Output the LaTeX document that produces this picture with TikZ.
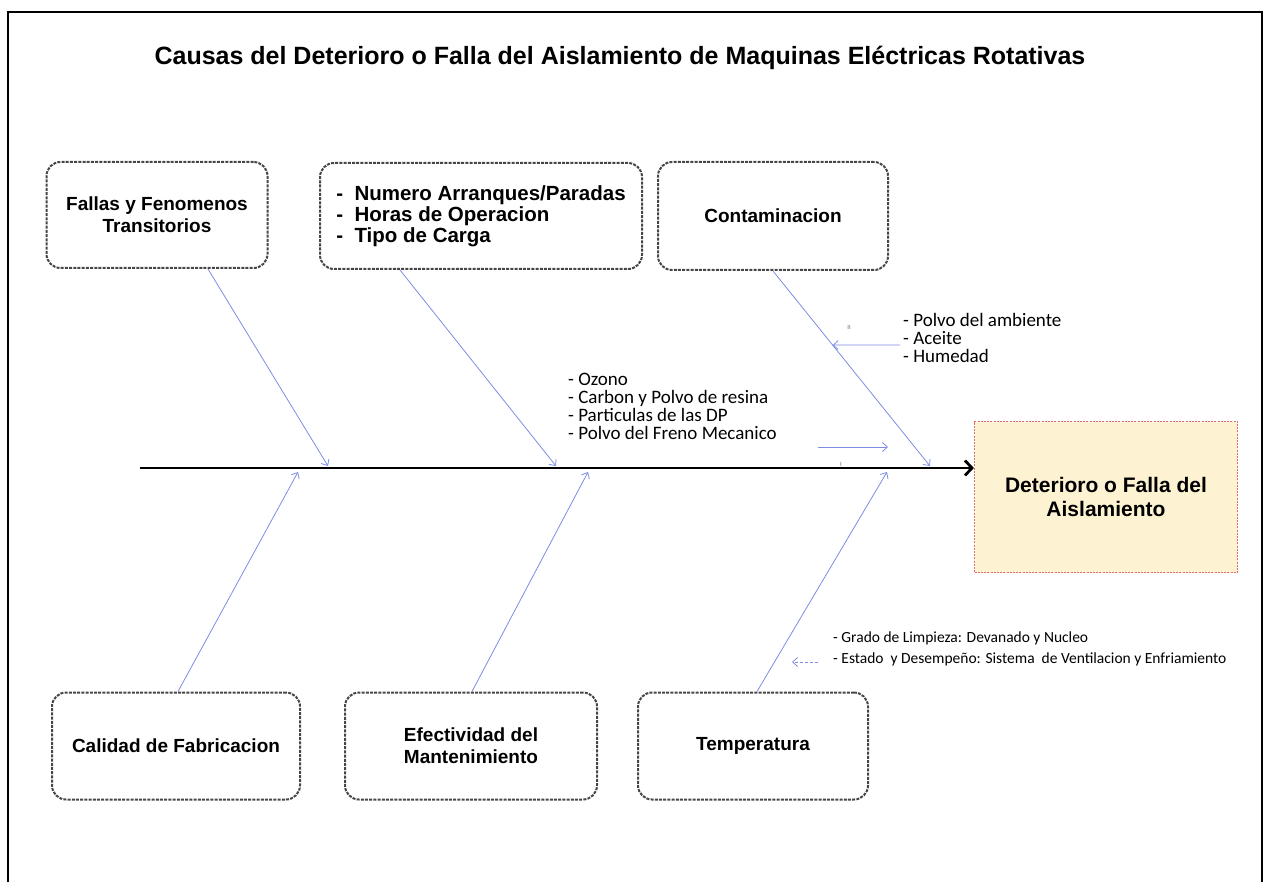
\documentclass[tikz,border=0pt]{standalone}
\usepackage{fontspec}
\setmainfont{Liberation Sans}
\newfontfamily\notefont{Carlito}
\usetikzlibrary{arrows.meta,calc}
\definecolor{causeblue}{RGB}{125,140,228}
\definecolor{boxline}{RGB}{70,70,70}
\definecolor{effectfill}{RGB}{253,243,210}
\definecolor{effectline}{RGB}{225,110,110}
\tikzset{
  causebox/.style={draw=boxline,line width=2pt,dash pattern=on 3pt off 1.2pt,
    rounded corners=14pt,align=center,font=\bfseries\fontsize{19}{22}\selectfont},
  effectbox/.style={draw=effectline,fill=effectfill,line width=1.2pt,dash pattern=on 2pt off 1.2pt,
    align=center,font=\bfseries\fontsize{21}{24}\selectfont},
  bone/.style={draw=causeblue,line width=0.8pt,-{Straight Barb[length=5pt,width=9pt]}},
  notes/.style={align=left,inner sep=0pt,font=\notefont\fontsize{19}{18}\selectfont},
  tick/.style={text=black!60,font=\fontsize{6}{6}\selectfont}
}
\begin{document}
\begin{tikzpicture}[x=1pt,y=-1pt]
   \useasboundingbox (0,0) rectangle (1266,882);
   \draw[line width=2.6pt] (8,890) -- (8,12) -- (1262,12) -- (1262,890);
   \node (title) at (620,58) {\bfseries\fontsize{25}{28}\selectfont Causas del Deterioro o Falla del Aislamiento de Maquinas Eléctricas Rotativas};
   % causas
   \node[causebox,minimum width=221pt,minimum height=106pt] (fallas) at (157,215) {Fallas y Fenomenos\\Transitorios};
   \node[causebox,minimum width=322pt,minimum height=106pt,align=left,font=\bfseries\fontsize{20.5}{21}\selectfont] (uso) at (481,216)
      {-\ \ Numero Arranques/Paradas\\-\ \ Horas de Operacion\\-\ \ Tipo de Carga};
   \node[causebox,minimum width=230pt,minimum height=108pt] (contam) at (773,216) {Contaminacion};
   \node[causebox,minimum width=248pt,minimum height=107pt] (calidad) at (176,746) {Calidad de Fabricacion};
   \node[causebox,minimum width=252pt,minimum height=107pt] (mant) at (471,746) {Efectividad del\\Mantenimiento};
   \node[causebox,minimum width=230pt,minimum height=107pt] (temp) at (753,746) {Temperatura};
   % efecto
   \node[effectbox,minimum width=263pt,minimum height=151pt] (efecto) at (1106,497) {Deterioro o Falla del\\Aislamiento};
   \coordinate (cola) at (140,468);
   \draw[line width=2.8pt,-{Straight Barb[length=7pt,width=15pt]}] (cola) -- (efecto.west |- cola);
   % espinas
   \coordinate (c1) at ($(fallas.south)+(51,0)$);
   \coordinate (c2) at ($(uso.south)+(-81,0)$);
   \coordinate (c3) at ($(contam.south)+(0,0)$);
   \coordinate (c4) at ($(calidad.north)+(2,0)$);
   \coordinate (c5) at ($(mant.north)+(1,0)$);
   \coordinate (c6) at ($(temp.north)+(4,0)$);
   \coordinate (s1) at (328,466);
   \coordinate (s2) at (556,466);
   \coordinate (s3) at (930,466);
   \coordinate (s4) at (298,472);
   \coordinate (s5) at (588,472);
   \coordinate (s6) at (887,472);
   \foreach \i in {1,...,6} \draw[bone] (c\i) -- (s\i);
   % notas
   \node[notes,anchor=north west] (polvo) at (903,313) {- Polvo del ambiente\\- Aceite\\- Humedad};
   \node[notes,anchor=north west] (ozono) at (568,373) {- Ozono\\- Carbon y Polvo de resina\\- Particulas de las DP\\- Polvo del Freno Mecanico};
   \node[notes,anchor=north west,font=\notefont\fontsize{15.5}{21}\selectfont] (grado) at (833,632) {- Grado de Limpieza: Devanado y Nucleo\\- Estado\ \ y Desempeño: Sistema\ \ de Ventilacion y Enfriamiento};
   \coordinate (p1) at (900,345);
   \coordinate (p2) at ($(c3)!0.38!(s3)$);
   \draw[bone] (p1) -- (p2);
   \coordinate (o1) at (818,447);
   \coordinate (o2) at (888,447);
   \draw[bone] (o1) -- (o2);
   \coordinate (g1) at (818,662);
   \coordinate (g2) at (792,662);
   \draw[bone,dash pattern=on 3pt off 2pt] (g1) -- (g2);
   \node[tick] (marca2) at (849,327) {II};
   \node[tick] (marca1) at (841,464) {I};
\end{tikzpicture}
\end{document}
